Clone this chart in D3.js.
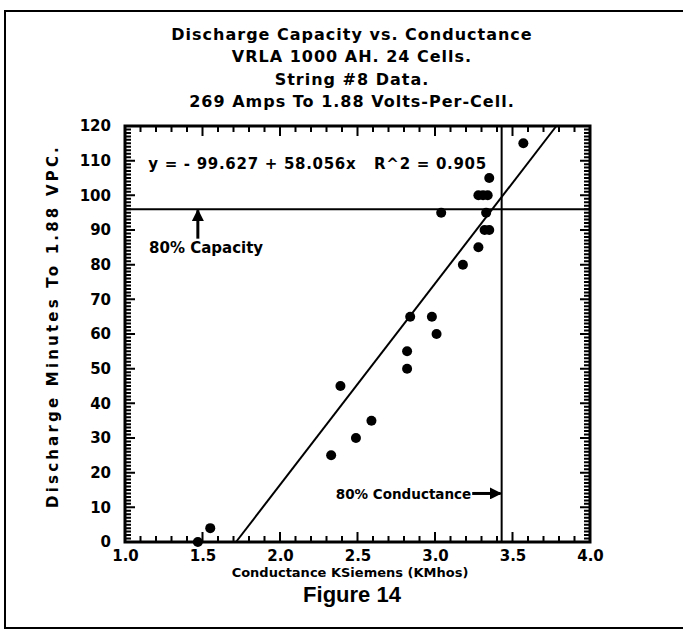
<!DOCTYPE html>
<html>
<head>
<meta charset="utf-8">
<script src="https://cdn.jsdelivr.net/npm/d3@7"></script>
<style>
  body { margin: 0; background: #fff; }
  text { font-family: "DejaVu Sans", sans-serif; font-weight: bold; fill: #000; }
</style>
</head>
<body>
<script>
// Conductance (KMhos) and discharge minutes
var conductance = [1.47, 1.55, 2.33, 2.39, 2.49, 2.59, 2.82, 2.82, 2.84, 2.98, 3.01, 3.04,
                   3.18, 3.28, 3.32, 3.35, 3.33, 3.28, 3.31, 3.34, 3.35, 3.57];
var minutes = [0, 4, 25, 45, 30, 35, 50, 55, 65, 65, 60, 95,
               80, 85, 90, 90, 95, 100, 100, 100, 105, 115];

var titleLines = ["Discharge Capacity vs. Conductance", "VRLA 1000 AH. 24 Cells.",
                  "String #8 Data.", "269 Amps To 1.88 Volts-Per-Cell."];
var xTicks = [1.0, 1.5, 2.0, 2.5, 3.0, 3.5, 4.0];
var yTicks = [0, 10, 20, 30, 40, 50, 60, 70, 80, 90, 100, 110, 120];

// fit line y = a + b x
var intercept = -99.627, slope = 58.056, r2 = 0.905;
var capacity80 = 96, conductance80 = 3.43;

var margin = {top: 126, right: 93, bottom: 88, left: 125},
    plotW = 683 - margin.left - margin.right,
    plotH = 630 - margin.top - margin.bottom;

var root = d3.select("body")
  .append("svg")
    .attr("width", 683)
    .attr("height", 630);

// outer frame of the figure
root.append("path")
  .attr("d", "M683,11 L5,11 L5,628 L683,628")
  .attr("fill", "none")
  .attr("stroke", "#000")
  .attr("stroke-width", 2);

root.selectAll(".title")
  .data(titleLines)
  .enter()
  .append("text")
    .attr("class", "title")
    .attr("x", 352)
    .attr("y", function(d, i) { return 40 + i * 22.3; })
    .attr("text-anchor", "middle")
    .style("font-size", "16px")
    .style("letter-spacing", "1px")
    .text(function(d) { return d; });

var xScale = d3.scaleLinear().domain([1, 4]).range([margin.left, margin.left + plotW]);
var yScale = d3.scaleLinear().domain([0, 120]).range([margin.top + plotH, margin.top]);

var xMinor = d3.range(10, 41).map(function(d) { return d / 10; });
var yMinor = d3.range(0, 121);

var bottomY = margin.top + plotH, rightX = margin.left + plotW;

// inward tick marks on all four sides, one path
function isMajorX(d) { return Math.abs(d * 2 - Math.round(d * 2)) < 1e-6; }
function isMajorY(d) { return d % 10 === 0; }

var tickPath = d3.path();
xMinor.forEach(function(d) {
  var len = isMajorX(d) ? 10 : 6;
  tickPath.moveTo(xScale(d), bottomY);
  tickPath.lineTo(xScale(d), bottomY - len);
  tickPath.moveTo(xScale(d), margin.top);
  tickPath.lineTo(xScale(d), margin.top + len);
});
yMinor.forEach(function(d) {
  var len = isMajorY(d) ? 10 : 6;
  tickPath.moveTo(margin.left, yScale(d));
  tickPath.lineTo(margin.left + len, yScale(d));
  tickPath.moveTo(rightX, yScale(d));
  tickPath.lineTo(rightX - len, yScale(d));
});
root.append("path")
  .attr("d", tickPath.toString())
  .attr("fill", "none")
  .attr("stroke", "#000")
  .attr("stroke-width", 2);

// plot frame
root.append("rect")
  .attr("x", margin.left).attr("y", margin.top)
  .attr("width", plotW)
  .attr("height", plotH)
  .attr("fill", "none")
  .attr("stroke", "#000")
  .attr("stroke-width", 3);

// tick labels from d3 axes
function styleAxis(g) {
  g.select(".domain").remove();
  g.selectAll(".tick line").remove();
}
root.append("g").attr("transform", "translate(0," + bottomY + ")")
  .call(d3.axisBottom(xScale).tickValues(xTicks).tickSize(0).tickPadding(6)
    .tickFormat(d3.format(".1f")))
  .call(styleAxis)
  .selectAll("text").style("font-size", "15px").attr("dy", "0.85em");
root.append("g").attr("transform", "translate(" + margin.left + ",0)")
  .call(d3.axisLeft(yScale).tickValues(yTicks).tickSize(0).tickPadding(14))
  .call(styleAxis)
  .selectAll("text").style("font-size", "15px");

// 80% reference lines
root.append("line")
  .attr("x1", margin.left).attr("x2", rightX)
  .attr("y1", yScale(capacity80)).attr("y2", yScale(capacity80))
  .attr("stroke", "#000").attr("stroke-width", 2);
root.append("line")
  .attr("x1", xScale(conductance80)).attr("x2", xScale(conductance80))
  .attr("y1", margin.top).attr("y2", bottomY)
  .attr("stroke", "#000").attr("stroke-width", 2);

// regression line clipped to the plot
var xAt0 = -intercept / slope, xAt120 = (120 - intercept) / slope;
root.append("line")
  .attr("x1", xScale(xAt0)).attr("y1", yScale(0))
  .attr("x2", xScale(xAt120)).attr("y2", yScale(120))
  .attr("stroke", "#000").attr("stroke-width", 2);

root.selectAll(".dot")
  .data(conductance)
  .enter()
  .append("circle")
    .attr("class", "dot")
    .attr("cx", function(d) { return xScale(d); })
    .attr("cy", function(d, i) { return yScale(minutes[i]); })
    .attr("r", 5)
    .attr("fill", "#000");

// arrow head marker
root.append("defs").append("marker")
  .attr("id", "arrow")
  .attr("viewBox", "0 0 10 10")
  .attr("refX", 9).attr("refY", 5)
  .attr("markerWidth", 4).attr("markerHeight", 4)
  .attr("orient", "auto")
  .append("path")
    .attr("d", "M0,0 L10,5 L0,10 Z")
    .attr("fill", "#000");

root.append("line")
  .attr("x1", xScale(1.47)).attr("x2", xScale(1.47))
  .attr("y1", yScale(87.5)).attr("y2", yScale(capacity80) + 1)
  .attr("stroke", "#000").attr("stroke-width", 3)
  .attr("marker-end", "url(#arrow)");
root.append("text")
  .attr("x", xScale(1.155)).attr("y", yScale(83.5))
  .style("font-size", "15px")
  .text("80% Capacity");

root.append("text")
  .attr("x", xScale(2.36)).attr("y", yScale(12.5))
  .style("font-size", "13.5px")
  .text("80% Conductance");
root.append("line")
  .attr("x1", xScale(3.24)).attr("x2", xScale(conductance80) - 1)
  .attr("y1", yScale(14)).attr("y2", yScale(14))
  .attr("stroke", "#000").attr("stroke-width", 3)
  .attr("marker-end", "url(#arrow)");

root.append("text")
  .attr("x", xScale(1.15)).attr("y", yScale(107.5))
  .style("font-size", "15px")
  .style("letter-spacing", "0.7px")
  .style("white-space", "pre")
  .text("y = - 99.627 + 58.056x   R^2 = " + r2);

// axis titles
root.append("text")
  .attr("x", 350).attr("y", bottomY + 35)
  .attr("text-anchor", "middle")
  .style("font-size", "13px")
  .text("Conductance KSiemens (KMhos)");
root.append("text")
  .attr("x", 352).attr("y", 602)
  .attr("text-anchor", "middle")
  .style("font-family", "'Liberation Sans', Arial, sans-serif")
  .style("font-size", "22px")
  .text("Figure 14");
root.append("text")
  .attr("transform", "translate(58,326) rotate(-90)")
  .attr("text-anchor", "middle")
  .style("font-size", "15px")
  .style("letter-spacing", "3.2px")
  .text("Discharge Minutes To 1.88 VPC.");
</script>
</body>
</html>
